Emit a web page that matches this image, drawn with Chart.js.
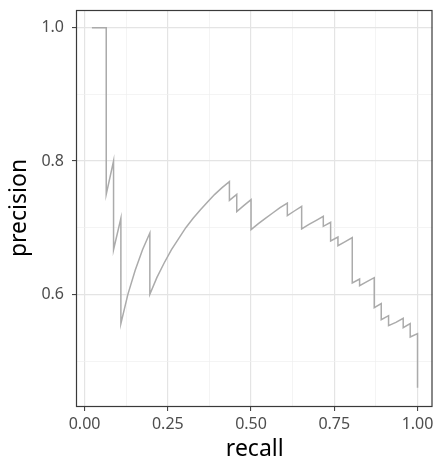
<!DOCTYPE html>
<html>
<head>
<meta charset="utf-8">
<script src="https://cdn.jsdelivr.net/npm/chart.js@4"></script>
<style>
  html, body { margin: 0; padding: 0; background: #fff; }
  #wrap { width: 435px; height: 464px; }
</style>
</head>
<body>
<div id="wrap"><canvas id="prChart"></canvas></div>
<script>
// precision / recall pairs
const recall = [
  0.022, 0.043, 0.065, 0.065, 0.087, 0.087, 0.109, 0.109, 0.130, 0.152,
  0.174, 0.196, 0.196, 0.217, 0.239, 0.261, 0.283, 0.304, 0.326, 0.348,
  0.370, 0.391, 0.413, 0.435, 0.435, 0.457, 0.457, 0.478, 0.500, 0.500,
  0.522, 0.543, 0.565, 0.587, 0.609, 0.609, 0.630, 0.652, 0.652, 0.674,
  0.696, 0.717, 0.717, 0.739, 0.739, 0.761, 0.761, 0.783, 0.804, 0.804,
  0.826, 0.826, 0.848, 0.870, 0.870, 0.891, 0.891, 0.913, 0.913, 0.935,
  0.957, 0.957, 0.978, 0.978, 1.000, 1.000
];
const precision = [
  1.000, 1.000, 1.000, 0.750, 0.800, 0.667, 0.714, 0.556, 0.600, 0.636,
  0.667, 0.692, 0.600, 0.625, 0.647, 0.667, 0.684, 0.700, 0.714, 0.727,
  0.739, 0.750, 0.760, 0.769, 0.741, 0.750, 0.724, 0.733, 0.742, 0.697,
  0.706, 0.714, 0.722, 0.730, 0.737, 0.718, 0.725, 0.732, 0.698, 0.705,
  0.711, 0.717, 0.702, 0.708, 0.680, 0.686, 0.673, 0.679, 0.685, 0.617,
  0.623, 0.613, 0.619, 0.625, 0.580, 0.586, 0.562, 0.568, 0.553, 0.558,
  0.564, 0.550, 0.556, 0.536, 0.541, 0.460
];

const xMajor = [0, 0.25, 0.5, 0.75, 1];
const xMinor = [0.125, 0.375, 0.625, 0.875];
const xLabels = ['0.00', '0.25', '0.50', '0.75', '1.00'];
const yMajor = [0.6, 0.8, 1.0];
const yMinor = [0.5, 0.7, 0.9];
const yLabels = ['0.6', '0.8', '1.0'];

const points = recall.map((r, i) => ({ x: r, y: precision[i] }));

function makeTicks(major, minor) {
  return major.map(v => ({ value: v, minor: false }))
    .concat(minor.map(v => ({ value: v, minor: true })))
    .sort((a, b) => a.value - b.value);
}

const gridColor = ctx => (ctx.tick && ctx.tick.minor) ? '#efefef' : '#e4e4e4';
const gridWidth = ctx => (ctx.tick && ctx.tick.minor) ? 0.7 : 1.2;
const tickColor = ctx => (ctx.tick && ctx.tick.minor) ? 'rgba(0,0,0,0)' : '#333333';

// full box round the panel, like theme_bw
const panelBorder = {
  id: 'panelBorder',
  afterDraw(chart) {
    const { ctx, chartArea: a } = chart;
    ctx.save();
    ctx.strokeStyle = '#3a3a3a';
    ctx.lineWidth = 1.2;
    ctx.strokeRect(a.left - 0.5, a.top + 0.5, a.right - a.left, a.bottom - a.top);
    ctx.restore();
  }
};

new Chart(document.getElementById('prChart'), {
  type: 'scatter',
  data: {
    datasets: [{
      data: points,
      showLine: true,
      borderColor: '#ababab',
      borderWidth: 1.5,
      pointRadius: 0,
      tension: 0,
      fill: false
    }]
  },
  options: {
    responsive: true,
    maintainAspectRatio: false,
    animation: false,
    layout: { padding: { left: 0, right: 2.5, top: 10, bottom: 0 } },
    plugins: {
      legend: { display: false },
      tooltip: { enabled: false }
    },
    scales: {
      x: {
        type: 'linear',
        min: -0.0228,
        max: 1.045,
        afterBuildTicks: scale => { scale.ticks = makeTicks(xMajor, xMinor); },
        afterFit: scale => {
          scale.height = 58;
          scale.paddingLeft = 0;
          scale.paddingRight = 0;
        },
        ticks: {
          autoSkip: false,
          maxRotation: 0,
          padding: 4,
          color: '#4d4d4d',
          font: { family: 'Noto Sans', size: 16 },
          callback: value => {
            const i = xMajor.indexOf(value);
            return i >= 0 ? xLabels[i] : '';
          }
        },
        grid: {
          color: gridColor,
          lineWidth: gridWidth,
          tickColor: tickColor,
          tickLength: 5,
          tickWidth: 1
        },
        border: { display: false },
        title: {
          display: true,
          text: 'recall',
          color: '#000',
          font: { family: 'Noto Sans', size: 23 },
          padding: { top: 0, bottom: 1 }
        }
      },
      y: {
        type: 'linear',
        min: 0.4325,
        max: 1.0265,
        afterBuildTicks: scale => { scale.ticks = makeTicks(yMajor, yMinor); },
        afterFit: scale => {
          scale.width = 77;
          scale.paddingTop = 0;
          scale.paddingBottom = 0;
        },
        ticks: {
          autoSkip: false,
          padding: 8,
          color: '#4d4d4d',
          font: { family: 'Noto Sans', size: 16 },
          callback: value => {
            const i = yMajor.indexOf(value);
            return i >= 0 ? yLabels[i] : '';
          }
        },
        grid: {
          color: gridColor,
          lineWidth: gridWidth,
          tickColor: tickColor,
          tickLength: 5,
          tickWidth: 1
        },
        border: { display: false },
        title: {
          display: true,
          text: 'precision',
          color: '#000',
          font: { family: 'Noto Sans', size: 23 },
          padding: { top: 6, bottom: 0 }
        }
      }
    }
  },
  plugins: [panelBorder]
});
</script>
</body>
</html>
